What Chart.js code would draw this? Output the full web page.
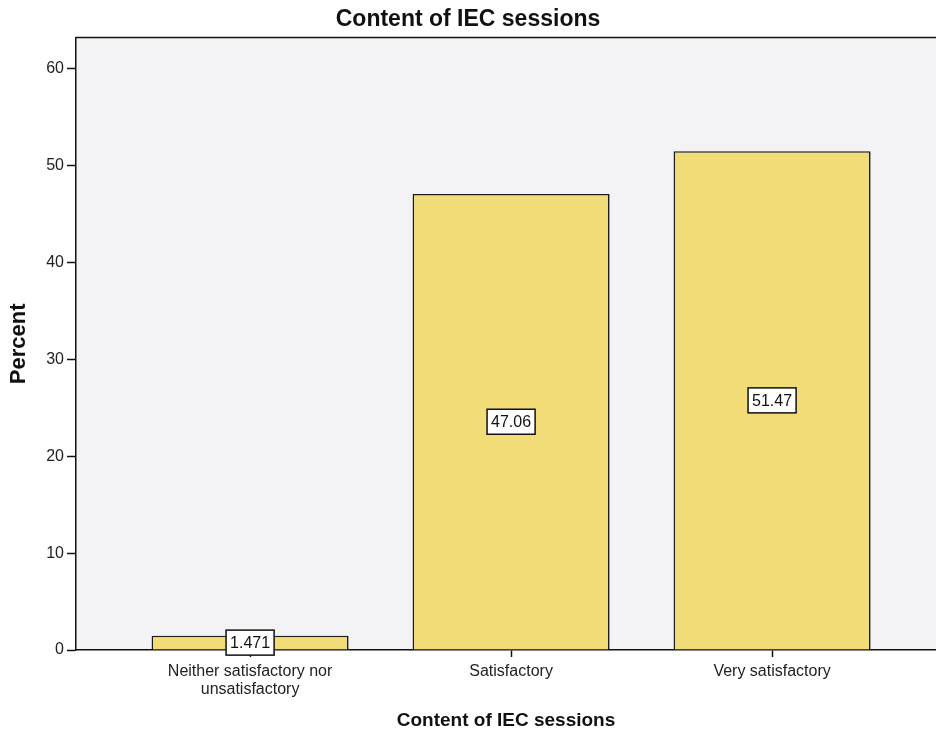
<!DOCTYPE html>
<html>
<head>
<meta charset="utf-8">
<script src="https://cdn.jsdelivr.net/npm/chart.js@4"></script>
<style>
  html, body { margin: 0; padding: 0; background: #fff; overflow: hidden; }
  #wrap { width: 936px; height: 737px; }
</style>
</head>
<body>
<div id="wrap"><canvas id="chart" width="936" height="737"></canvas></div>
<script>
// categories and values
const categories = [["Neither satisfactory nor", "unsatisfactory"], "Satisfactory", "Very satisfactory"];
const percents = [1.471, 47.06, 51.47];
const percentLabels = ["1.471", "47.06", "51.47"];
const yTicks = [0, 10, 20, 30, 40, 50, 60];

const fontFamily = "Arial, 'Liberation Sans', sans-serif";

// light grey plot background and the top frame line
const frame = {
    id: "frame",
    beforeDraw(chart) {
        const { ctx, chartArea: a } = chart;
        ctx.save();
        ctx.fillStyle = "#f3f3f5";
        ctx.fillRect(a.left, a.top, a.right - a.left, a.bottom - a.top);
        ctx.restore();
    },
    afterDraw(chart) {
        const { ctx, chartArea: a } = chart;
        ctx.save();
        ctx.strokeStyle = "#111";
        ctx.lineWidth = 1.5;
        ctx.beginPath();
        ctx.moveTo(a.left, a.top);
        ctx.lineTo(a.right, a.top);
        ctx.stroke();
        ctx.restore();
    }
};

// boxed value labels at the middle of each bar
const boxLabels = {
    id: "boxLabels",
    afterDatasetsDraw(chart) {
        const ctx = chart.ctx;
        const meta = chart.getDatasetMeta(0);
        ctx.save();
        ctx.font = "16px " + fontFamily;
        ctx.textAlign = "center";
        ctx.textBaseline = "middle";
        meta.data.forEach((bar, i) => {
            const txt = percentLabels[i];
            const cy = (bar.y + bar.base) / 2;
            const w = ctx.measureText(txt).width + 8;
            const h = 25;
            ctx.fillStyle = "#fff";
            ctx.fillRect(bar.x - w / 2, cy - h / 2, w, h);
            ctx.strokeStyle = "#111";
            ctx.lineWidth = 1.5;
            ctx.strokeRect(bar.x - w / 2, cy - h / 2, w, h);
            ctx.fillStyle = "#111";
            ctx.fillText(txt, bar.x, cy + 1);
        });
        ctx.restore();
    }
};

const chart = new Chart(document.getElementById("chart"), {
    type: "bar",
    data: {
        datasets: [{
            data: percents.map((v, i) => ({ x: i, y: v })),
            backgroundColor: "#f1dc78",
            borderColor: "#1a1a1a",
            borderWidth: 1.6,
            borderSkipped: "bottom",
            categoryPercentage: 1,
            barPercentage: 0.755
        }]
    },
    options: {
        responsive: false,
        animation: false,
        layout: { padding: 0 },
        plugins: {
            legend: { display: false },
            tooltip: { enabled: false },
            title: {
                display: true,
                text: "Content of IEC sessions",
                color: "#111",
                font: { family: fontFamily, size: 23, weight: "bold" },
                padding: { top: 6, bottom: 4 }
            }
        },
        scales: {
            x: {
                type: "linear",
                offset: false,
                min: -0.667,
                max: 2.628,
                afterBuildTicks(scale) {
                    scale.ticks = categories.map((c, i) => ({ value: i }));
                },
                afterFit(scale) { scale.height = 87; },
                ticks: {
                    color: "#222",
                    font: { family: fontFamily, size: 16, lineHeight: 1.1 },
                    padding: 6,
                    maxRotation: 0,
                    autoSkip: false,
                    callback: (v) => categories[v]
                },
                grid: { offset: false, drawOnChartArea: false, color: "#111", tickLength: 7, tickWidth: 1.5 },
                border: { color: "#111", width: 1.5 },
                title: {
                    display: true,
                    text: "Content of IEC sessions",
                    color: "#111",
                    font: { family: fontFamily, size: 19, weight: "bold" },
                    padding: { top: 5, bottom: 5 }
                }
            },
            y: {
                min: 0,
                max: 63.2,
                afterBuildTicks(scale) {
                    scale.ticks = yTicks.map(v => ({ value: v }));
                },
                afterFit(scale) { scale.width = 76; },
                ticks: {
                    color: "#222",
                    font: { family: fontFamily, size: 16 },
                    padding: 3
                },
                grid: { drawOnChartArea: false, color: "#111", tickLength: 9, tickWidth: 1.5 },
                border: { color: "#111", width: 1.5 },
                title: {
                    display: true,
                    text: "Percent",
                    color: "#111",
                    font: { family: fontFamily, size: 22, weight: "bold" },
                    padding: { top: 6, bottom: 4 }
                }
            }
        }
    },
    plugins: [frame, boxLabels]
});
</script>
</body>
</html>
